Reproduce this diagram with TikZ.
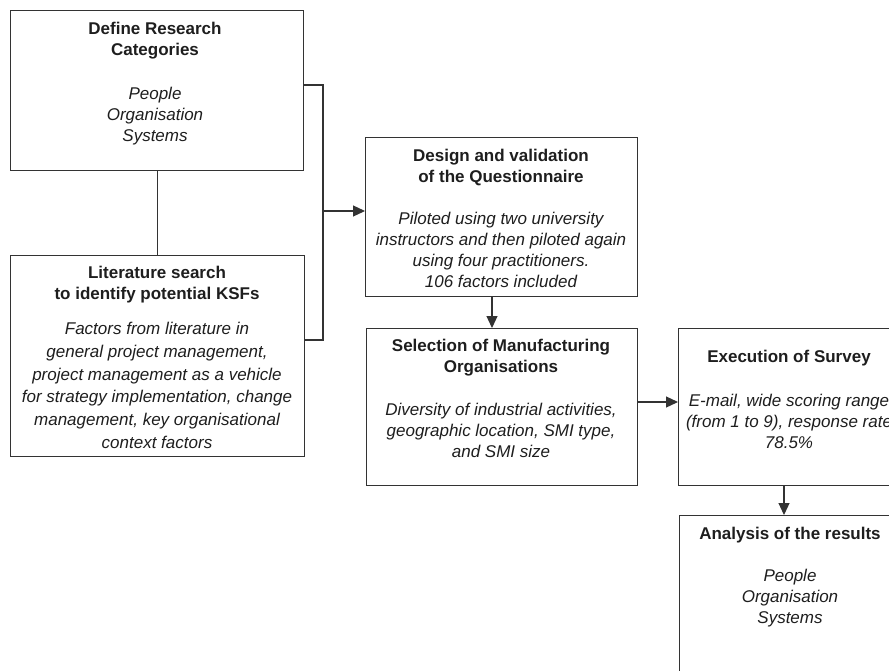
\documentclass[tikz,border=0pt]{standalone}
\usepackage{fontspec}
\setmainfont{Liberation Sans}
\usetikzlibrary{arrows.meta,calc}
\definecolor{ink}{HTML}{333333}
\definecolor{txt}{HTML}{1E1E1E}
\begin{document}
\begin{tikzpicture}[x=1pt,y=-1pt,
  box/.style={draw=ink,line width=1.2pt,rectangle,anchor=north west,inner sep=0pt},
  ttl/.style={anchor=north,inner sep=0pt,align=center,text=txt,font=\fontsize{17}{20.5}\selectfont\bfseries},
  bdy/.style={anchor=north,inner sep=0pt,align=center,text=txt,font=\fontsize{17}{21}\selectfont\itshape},
  conn/.style={draw=ink,line width=1.2pt},
  arr/.style={conn,-{Triangle[length=12pt,width=11pt]}}]
\useasboundingbox (0,0) rectangle (889,670);
\fill[white] (0,0) rectangle (889,670);
\clip (0,0) rectangle (889,670);
% boxes
\node[box,minimum width=293pt,minimum height=160pt] (b1) at (10,10) {};
\node[box,minimum width=294pt,minimum height=201pt] (b2) at (10,255) {};
\node[box,minimum width=272pt,minimum height=159pt] (b3) at (365,137) {};
\node[box,minimum width=271pt,minimum height=157pt] (b4) at (366,328) {};
\node[box,minimum width=222pt,minimum height=157pt] (b5) at (678,328) {};
\node[box,minimum width=222pt,minimum height=200pt] (b6) at (679,515) {};
% texts
\node[ttl] (t1) at (155,22) {Define Research\\Categories};
\node[bdy] (p1) at (155,86.5) {People\\Organisation\\Systems};
\node[ttl] (t2) at (157,266) {Literature search\\to identify potential KSFs};
\node[bdy,font=\fontsize{17}{22.8}\selectfont\itshape] (p2) at (157,322) {Factors from literature in\\general project management,\\project management as a vehicle\\for strategy implementation, change\\management, key organisational\\context factors};
\node[ttl] (t3) at (501,149) {Design and validation\\of the Questionnaire};
\node[bdy] (p3) at (501,212) {Piloted using two university\\instructors and then piloted again\\using four practitioners.\\106 factors included};
\node[ttl] (t4) at (501,339) {Selection of Manufacturing\\Organisations};
\node[bdy] (p4) at (501,403) {Diversity of industrial activities,\\geographic location, SMI type,\\and SMI size};
\node[ttl] (t5) at (789,349.5) {Execution of Survey};
\node[bdy] (p5) at (789,394) {E-mail, wide scoring range\\(from 1 to 9), response rate\\78.5\%};
\node[ttl] (t6) at (790,527) {Analysis of the results};
\node[bdy] (p6) at (790,569) {People\\Organisation\\Systems};
% connectors
\draw[conn] (b1.south) -- (b1.south |- b2.north);
\coordinate (br1) at (323,85);
\coordinate (br2) at (323,340);
\coordinate (brm) at (323,211);
\draw[conn] (br1 -| b1.east) -- (br1) -- (br2) -- (br2 -| b2.east);
\draw[arr] (brm) -- (brm -| b3.west);
\coordinate (a34) at (492,0);
\draw[arr] (a34 |- b3.south) -- (a34 |- b4.north);
\coordinate (a45) at (0,402);
\draw[arr] (a45 -| b4.east) -- (a45 -| b5.west);
\coordinate (a56) at (784,0);
\draw[arr] (a56 |- b5.south) -- (a56 |- b6.north);
\end{tikzpicture}
\end{document}
